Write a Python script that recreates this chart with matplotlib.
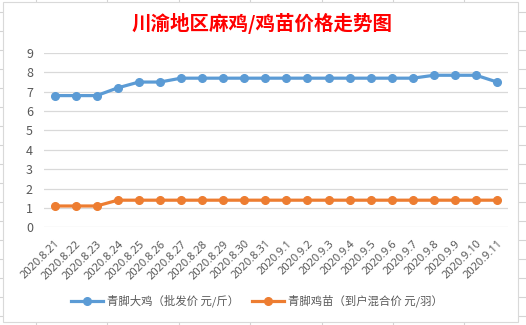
import matplotlib
matplotlib.use("Agg")
import matplotlib.pyplot as plt
from matplotlib.lines import Line2D
from matplotlib.patches import Rectangle

plt.rcParams['font.family'] = ['Noto Sans CJK SC', 'DejaVu Sans']

dates = ["2020.8.21", "2020.8.22", "2020.8.23", "2020.8.24", "2020.8.25", "2020.8.26",
         "2020.8.27", "2020.8.28", "2020.8.29", "2020.8.30", "2020.8.31", "2020.9.1",
         "2020.9.2", "2020.9.3", "2020.9.4", "2020.9.5", "2020.9.6", "2020.9.7",
         "2020.9.8", "2020.9.9", "2020.9.10", "2020.9.11"]
big_chicken = [6.8, 6.8, 6.8, 7.2, 7.5, 7.5, 7.7, 7.7, 7.7, 7.7, 7.7, 7.7,
               7.7, 7.7, 7.7, 7.7, 7.7, 7.7, 7.85, 7.85, 7.85, 7.5]
chick = [1.1, 1.1, 1.1, 1.4, 1.4, 1.4, 1.4, 1.4, 1.4, 1.4, 1.4, 1.4,
         1.4, 1.4, 1.4, 1.4, 1.4, 1.4, 1.4, 1.4, 1.4, 1.4]
series_names = ["青脚大鸡（批发价 元/斤）", "青脚鸡苗（到户混合价 元/羽）"]
title = "川渝地区麻鸡/鸡苗价格走势图"

W, H = 526, 325
fig = plt.figure(figsize=(W / 100, H / 100), dpi=100)
fig.patch.set_facecolor("white")

def fx(x):
    return x / W

def fy(y):
    return 1 - y / H

grid_c = "#d4d4d4"
# spreadsheet background gridlines
y = 12.3
while y < H:
    fig.add_artist(Line2D([0, 1], [fy(y), fy(y)], transform=fig.transFigure, color=grid_c, lw=0.8, zorder=0))
    y += 19.0
x = 35.7
while x < W:
    fig.add_artist(Line2D([fx(x), fx(x)], [0, 1], transform=fig.transFigure, color=grid_c, lw=0.8, zorder=0))
    x += 71.45

# chart area
fig.add_artist(Rectangle((fx(3), fy(322)), fx(518) - fx(3), fy(2) - fy(322),
                         transform=fig.transFigure, facecolor="white",
                         edgecolor="#d9d9d9", lw=0.8, zorder=1))

ax = fig.add_axes([fx(44), fy(227.3), fx(507.7) - fx(44), fy(53) - fy(227.3)])
ax.set_zorder(2)
ax.patch.set_alpha(0)

xs = list(range(len(dates)))
blue = "#5B9BD5"
orange = "#ED7D31"
ax.plot(xs, big_chicken, color=blue, lw=2.3, marker="o", ms=5.5, label=series_names[0],
        solid_joinstyle="round", zorder=3)
ax.plot(xs, chick, color=orange, lw=2.3, marker="o", ms=5.5, label=series_names[1],
        solid_joinstyle="round", zorder=3)

ax.set_xlim(-0.5, len(dates) - 0.5)
ax.set_ylim(0, 9)
ax.set_yticks(range(0, 10))
ax.grid(axis="y", color="#d9d9d9", lw=0.9)
ax.set_axisbelow(True)
for s in ax.spines.values():
    s.set_visible(False)
ax.tick_params(axis="both", length=0, colors="#595959", labelsize=9)
ax.tick_params(axis="y", pad=8)
ax.set_xticks(xs)
ax.set_xticklabels(dates, rotation=45, ha="right", rotation_mode="anchor", fontsize=8,
                   color="#595959", family=["Noto Sans", "DejaVu Sans"])
ax.tick_params(axis="x", pad=8)

fig.text(fx(262), fy(23), title, ha="center", va="center", color="#FF0000",
         fontsize=14, fontweight="bold")

leg = fig.legend(loc="center", bbox_to_anchor=(fx(257), fy(301)), ncol=2, frameon=False,
                 fontsize=8.2, handlelength=2.8, columnspacing=1.2, handletextpad=0.3)
for t in leg.get_texts():
    t.set_color("#595959")

fig.savefig("out.png", dpi=100)
